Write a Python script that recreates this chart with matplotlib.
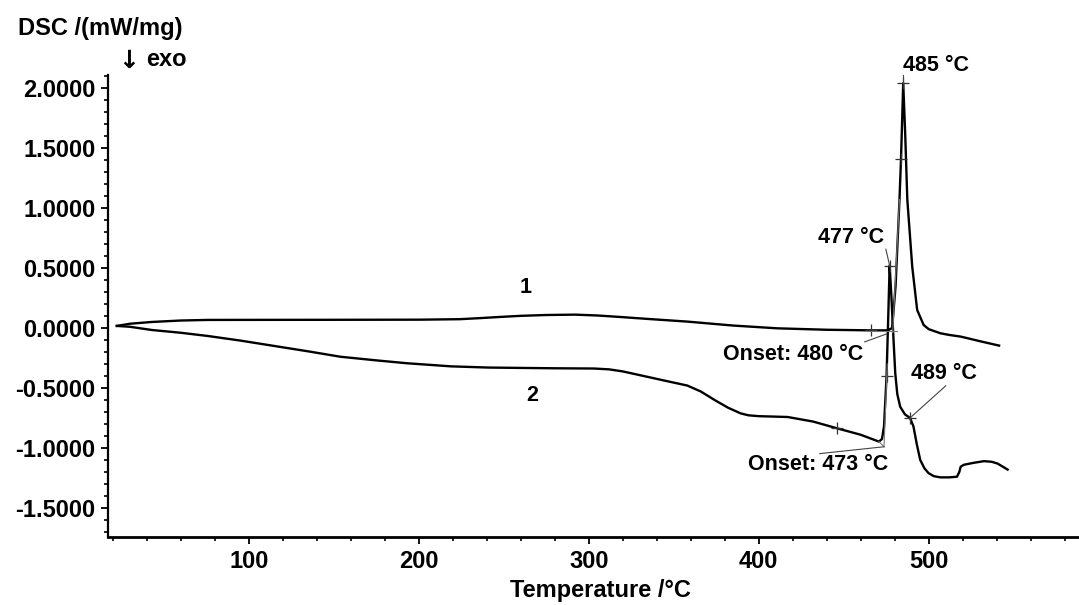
import numpy as np
import matplotlib
matplotlib.use("Agg")
import matplotlib.pyplot as plt
from matplotlib.ticker import MultipleLocator, FormatStrFormatter

plt.rcParams['font.family'] = ['Liberation Sans', 'DejaVu Sans']
plt.rcParams['font.weight'] = 'bold'
plt.rcParams['axes.unicode_minus'] = False

# DSC curve 1 (temperature in °C, heat flow in mW/mg)
t1 = [22.4, 30, 43, 60, 76, 150, 200, 224, 236, 248, 260, 275, 292, 305, 318,
      335, 358, 385, 411, 440, 466, 476, 478.5, 480.5, 482.8, 483.7, 485,
      486.2, 487.4, 490.3, 493.2, 497, 500, 506.8, 512, 518.8, 523, 530, 541.4]
dsc1 = [0.017, 0.035, 0.05, 0.062, 0.067, 0.068, 0.069, 0.073, 0.082, 0.092,
        0.101, 0.108, 0.111, 0.104, 0.092, 0.075, 0.053, 0.02, -0.003, -0.015,
        -0.02, -0.02, 0.0, 0.35, 1.07, 1.41, 2.04, 1.6, 1.07, 0.51, 0.15, 0.025,
        -0.01, -0.044, -0.058, -0.072, -0.086, -0.11, -0.147]

# DSC curve 2
t2 = [22.4, 30, 43, 60, 76, 95, 115, 135, 154, 175, 193, 219, 241, 260, 280,
      303, 312, 320, 329, 345, 358, 366, 374, 382, 389.4, 394, 400, 417, 432,
      446, 460, 470.7, 472.5, 473.7, 475.2, 476.2, 477, 477.9, 479.3, 480.3,
      481.5, 483.2, 486, 489, 491, 493, 495, 497.5, 499.9, 503, 506.8, 512,
      516.6, 518, 518.8, 520.7, 526, 532.5, 537, 540.5, 546.4]
dsc2 = [0.017, 0.01, -0.017, -0.04, -0.067, -0.105, -0.15, -0.195, -0.24,
        -0.27, -0.294, -0.32, -0.33, -0.333, -0.336, -0.338, -0.345, -0.362,
        -0.39, -0.44, -0.48, -0.53, -0.6, -0.665, -0.712, -0.728, -0.735,
        -0.742, -0.78, -0.836, -0.89, -0.947, -0.925, -0.82, -0.4, 0.1, 0.52,
        0.3, -0.1, -0.375, -0.55, -0.656, -0.72, -0.75, -0.82, -0.97, -1.1,
        -1.17, -1.21, -1.235, -1.245, -1.245, -1.24, -1.2, -1.156, -1.14,
        -1.125, -1.11, -1.115, -1.13, -1.18]

# evaluation points marked on each curve
marks1 = [466, 483.7, 485]
marks2 = [446, 475.2, 477, 489]

# characteristic temperatures
peak1_t, peak2_t, shoulder2_t = 485, 477, 489
onset1_t, onset1_v = 480, -0.03
onset2_t, onset2_v = 473.7, -0.99

x_ticks = [100, 200, 300, 400, 500]
y_ticks = [-1.5, -1.0, -0.5, 0.0, 0.5, 1.0, 1.5, 2.0]

fig = plt.figure(figsize=(10.79, 6.05), dpi=100)
ax = fig.add_axes([108 / 1079, 68 / 605, 971 / 1079, 462 / 605])

ax.plot(t1, dsc1, color='black', lw=1.7, solid_joinstyle='round')
ax.plot(t2, dsc2, color='black', lw=1.7, solid_joinstyle='round')

# '+' evaluation markers
ax.plot(marks1, np.interp(marks1, t1, dsc1), ls='none', marker='+',
        ms=9, mew=0.9, color='#333333')
ax.plot(marks2, np.interp(marks2, t2, dsc2), ls='none', marker='+',
        ms=9, mew=0.9, color='#333333')

# onset construction lines
grey = '#777777'
ax.plot([466, onset1_t + 1.5], [-0.025, -0.025], color=grey, lw=0.8)
ax.plot([onset1_t - 1.2, 482.8], [onset1_v - 0.01, 1.07], color=grey, lw=0.8)
ax.plot([470.7, onset2_t], [-0.947, onset2_v], color=grey, lw=0.8)
ax.plot([onset2_t, 475.6], [onset2_v, -0.3], color=grey, lw=0.8)

# annotations with leader lines
fs = 15.5
lead = dict(color='#444444', lw=0.8)
v_p1 = np.interp(peak1_t, t1, dsc1)
ax.plot([peak1_t, peak1_t], [v_p1, v_p1 + 0.07], clip_on=False, **lead)
ax.text(peak1_t, 2.19, f'{peak1_t} °C', fontsize=fs, fontweight='bold',
        ha='left', va='center', clip_on=False)

v_p2 = np.interp(peak2_t, t2, dsc2)
ax.plot([474.8, peak2_t], [0.656, v_p2], **lead)
ax.text(473.8, 0.756, f'{peak2_t} °C', fontsize=fs, fontweight='bold',
        ha='right', va='center')

ax.plot([462.3, 475.2], [-0.116, -0.05], **lead)
ax.text(461.5, -0.224, f'Onset: {onset1_t} °C', fontsize=fs,
        fontweight='bold', ha='right', va='center')

v_s2 = np.interp(shoulder2_t, t2, dsc2)
ax.plot([510, shoulder2_t], [-0.482, v_s2], **lead)
ax.text(489.6, -0.382, f'{shoulder2_t} °C', fontsize=fs, fontweight='bold',
        ha='left', va='center')

ax.plot([435.9, onset2_t], [-1.047, onset2_v], **lead)
ax.text(476.3, -1.138, 'Onset: 473 °C', fontsize=fs, fontweight='bold',
        ha='right', va='center')

ax.text(262.6, 0.34, '1', fontsize=fs, fontweight='bold', ha='center', va='center')
ax.text(266.7, -0.565, '2', fontsize=fs, fontweight='bold', ha='center', va='center')

# axes styling
ax.set_xlim(17.2, 588.4)
ax.set_ylim(-1.742, 2.108)
for side in ('top', 'right'):
    ax.spines[side].set_visible(False)
ax.spines['left'].set_linewidth(1.6)
ax.spines['bottom'].set_linewidth(2.0)

ax.set_xticks(x_ticks)
ax.set_yticks(y_ticks)
ax.xaxis.set_minor_locator(MultipleLocator(20))
ax.yaxis.set_minor_locator(MultipleLocator(0.1))
ax.yaxis.set_major_formatter(FormatStrFormatter('%.4f'))
ax.tick_params(which='major', direction='out', length=5, width=1.3, pad=4,
               labelsize=17)
ax.tick_params(which='minor', direction='out', length=3, width=1.2)
for lab in ax.get_xticklabels() + ax.get_yticklabels():
    lab.set_fontweight('bold')

fig.text(600 / 1079, 1 - 590 / 605, 'Temperature /°C', fontsize=17,
         fontweight='bold', ha='center', va='center')
fig.text(18 / 1079, 1 - 28 / 605, 'DSC /(mW/mg)', fontsize=17,
         fontweight='bold', ha='left', va='center')
fig.text(118 / 1079, 1 - 61 / 605, '↓', fontsize=18, family='DejaVu Sans',
         ha='left', va='center')
fig.text(146 / 1079, 1 - 60 / 605, 'exo', fontsize=17,
         fontweight='bold', ha='left', va='center')

fig.savefig('out.png', dpi=100, facecolor='white')
